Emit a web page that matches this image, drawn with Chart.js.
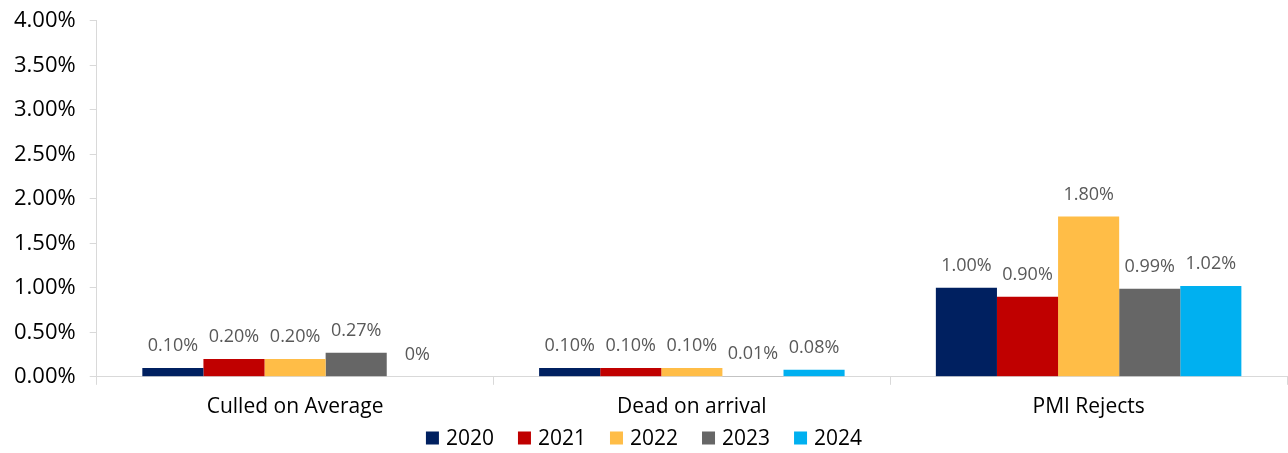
<!DOCTYPE html>
<html>
<head>
<meta charset="utf-8">
<script src="https://cdn.jsdelivr.net/npm/chart.js@4/dist/chart.umd.min.js"></script>
<style>
  html, body { margin: 0; padding: 0; background: #fff; }
  #wrap { width: 1288px; height: 453px; position: relative; }
</style>
</head>
<body>
<div id="wrap"><canvas id="chart"></canvas></div>
<script>
const categories = ['Culled on Average', 'Dead on arrival', 'PMI Rejects'];
const years      = ['2020', '2021', '2022', '2023', '2024'];
const colors     = ['#002060', '#C00000', '#FFBD47', '#666666', '#00B0F0'];

const v2020 = [0.10, 0.10, 1.00];
const v2021 = [0.20, 0.10, 0.90];
const v2022 = [0.20, 0.10, 1.80];
const v2023 = [0.27, 0.01, 0.99];
const v2024 = [0.00, 0.08, 1.02];

const yTicks = [0, 0.5, 1, 1.5, 2, 2.5, 3, 3.5, 4];

const series = [v2020, v2021, v2022, v2023, v2024];
const FONT   = "'Open Sans', 'Noto Sans', sans-serif";
const AXIS   = '#d9d9d9';

const fmt = v => v === 0 ? '0%' : `${v.toFixed(2)}%`;

// value labels above each bar
const barLabels = {
  id: 'barLabels',
  afterDatasetsDraw(chart) {
    const ctx = chart.ctx;
    ctx.save();
    ctx.font = `18px ${FONT}`;
    ctx.fillStyle = '#595959';
    ctx.textAlign = 'center';
    ctx.textBaseline = 'middle';
    chart.data.datasets.forEach((ds, i) => {
      chart.getDatasetMeta(i).data.forEach((bar, j) => {
        ctx.fillText(fmt(ds.data[j]), bar.x, bar.y - 22);
      });
    });
    ctx.restore();
  }
};

// legend row under the axis labels (built-in legend spaces items too tightly)
const bottomLegend = {
  id: 'bottomLegend',
  afterDraw(chart) {
    const ctx = chart.ctx;
    const box = 13, gap = 7, spacing = 24, y = 438;
    ctx.save();
    ctx.font = `21px ${FONT}`;
    ctx.textBaseline = 'middle';
    ctx.textAlign = 'left';
    const items = chart.data.datasets.map(ds => ({ text: ds.label, color: ds.backgroundColor, w: ctx.measureText(ds.label).width }));
    const total = items.reduce((s, it) => s + box + gap + it.w, 0) + spacing * (items.length - 1);
    let x = (chart.width - total) / 2;
    items.forEach(it => {
      ctx.fillStyle = it.color;
      ctx.fillRect(x, y - box / 2, box, box);
      x += box + gap;
      ctx.fillStyle = '#000';
      ctx.fillText(it.text, x, y + 1);
      x += it.w + spacing;
    });
    ctx.restore();
  }
};

new Chart(document.getElementById('chart').getContext('2d'), {
  type: 'bar',
  data: {
    labels: categories,
    datasets: series.map((data, i) => ({
      label: years[i],
      data,
      backgroundColor: colors[i],
      borderWidth: 0,
      categoryPercentage: 0.77,
      barPercentage: 1.0,
    })),
  },
  options: {
    responsive: true, maintainAspectRatio: false, animation: false,
    layout: { padding: { top: 0, right: 1, left: 0, bottom: 23 } },
    plugins: {
      legend: { display: false },
      tooltip: { enabled: false },
    },
    scales: {
      x: {
        border: { color: AXIS, width: 1 },
        grid: { display: true, drawOnChartArea: false, drawTicks: true, tickLength: 8, color: AXIS, offset: true },
        ticks: { color: '#000', font: { family: FONT, size: 21 }, padding: 10 },
      },
      y: {
        min: 0, max: 4,
        afterBuildTicks: axis => { axis.ticks = yTicks.map(value => ({ value })); },
        border: { color: AXIS, width: 1 },
        grid: { display: true, drawOnChartArea: false, drawTicks: true, tickLength: 7, color: AXIS },
        ticks: { color: '#000', font: { family: FONT, size: 22, lineHeight: 0.62 }, padding: 14, callback: v => `${v.toFixed(2)}%` },
      },
    },
  },
  plugins: [barLabels, bottomLegend],
});
</script>
</body>
</html>
